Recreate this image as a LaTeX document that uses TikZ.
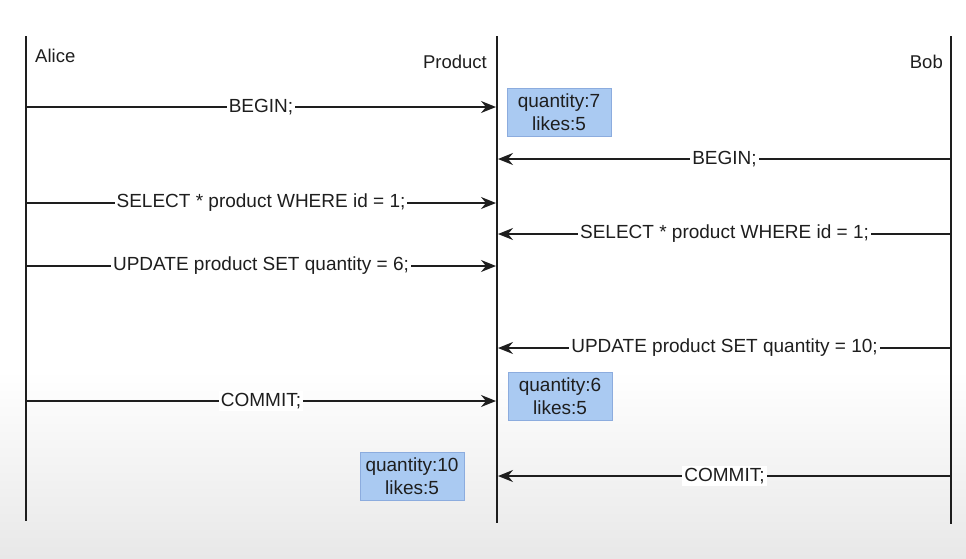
\documentclass[tikz,border=0pt]{standalone}
\usepackage{fontspec}
\setmainfont{Liberation Sans}
\usetikzlibrary{arrows.meta}
\definecolor{statefill}{RGB}{170,202,242}
\definecolor{stateedge}{RGB}{140,172,222}
\definecolor{ink}{RGB}{30,30,30}

\begin{document}
\begin{tikzpicture}[x=1pt,y=-1pt,
  lifeline/.style={line width=2.4pt,ink},
  msg/.style={line width=1.6pt,ink,-{Stealth[length=15pt,width=12pt,inset=5pt]}},
  lbl/.style={midway,fill=white,inner sep=2pt,text=ink,font=\fontsize{19}{22}\selectfont},
  actor/.style={inner sep=0pt,text=ink,font=\fontsize{18.5}{22}\selectfont},
  state/.style={draw=stateedge,fill=statefill,minimum width=104pt,minimum height=48pt,
    inner sep=0pt,align=center,text=ink,font=\fontsize{19}{23}\selectfont}]
\useasboundingbox (0,0) rectangle (966,558);
\shade[top color=white,bottom color=black!9] (0,370) rectangle (966,558);

\coordinate (alice top) at (26,36);
\coordinate (alice bottom) at (26,521);
\coordinate (product top) at (497,36);
\coordinate (product bottom) at (497,523);
\coordinate (bob top) at (951,36);
\coordinate (bob bottom) at (951,524);
\draw[lifeline] (alice top) -- (alice bottom);
\draw[lifeline] (product top) -- (product bottom);
\draw[lifeline] (bob top) -- (bob bottom);

\node [actor,anchor=west] (alice) at (35,56) {Alice};
\node [actor,anchor=east] (product) at (487,62) {Product};
\node [actor,anchor=east] (bob) at (943,62) {Bob};

\coordinate (a1) at (26,107);  \coordinate (p1) at (496,107);
\coordinate (b2) at (951,159); \coordinate (p2) at (498,159);
\coordinate (a3) at (26,203);  \coordinate (p3) at (496,203);
\coordinate (b4) at (951,234); \coordinate (p4) at (498,234);
\coordinate (a5) at (26,266);  \coordinate (p5) at (496,266);
\coordinate (b6) at (951,348); \coordinate (p6) at (498,348);
\coordinate (a7) at (26,401);  \coordinate (p7) at (496,401);
\coordinate (b8) at (951,476); \coordinate (p8) at (498,476);

\draw[msg] (a1) -- (p1) node[lbl] {BEGIN;};
\draw[msg] (b2) -- (p2) node[lbl] {BEGIN;};
\draw[msg] (a3) -- (p3) node[lbl] {SELECT * product WHERE id = 1;};
\draw[msg] (b4) -- (p4) node[lbl] {SELECT * product WHERE id = 1;};
\draw[msg] (a5) -- (p5) node[lbl] {UPDATE product SET quantity = 6;};
\draw[msg] (b6) -- (p6) node[lbl] {UPDATE product SET quantity = 10;};
\draw[msg] (a7) -- (p7) node[lbl] {COMMIT;};
\draw[msg] (b8) -- (p8) node[lbl] {COMMIT;};

\node [state] (s1) at (559,112) {quantity:7\\likes:5};
\node [state] (s2) at (560,396) {quantity:6\\likes:5};
\node [state] (s3) at (412,476) {quantity:10\\likes:5};
\end{tikzpicture}
\end{document}
